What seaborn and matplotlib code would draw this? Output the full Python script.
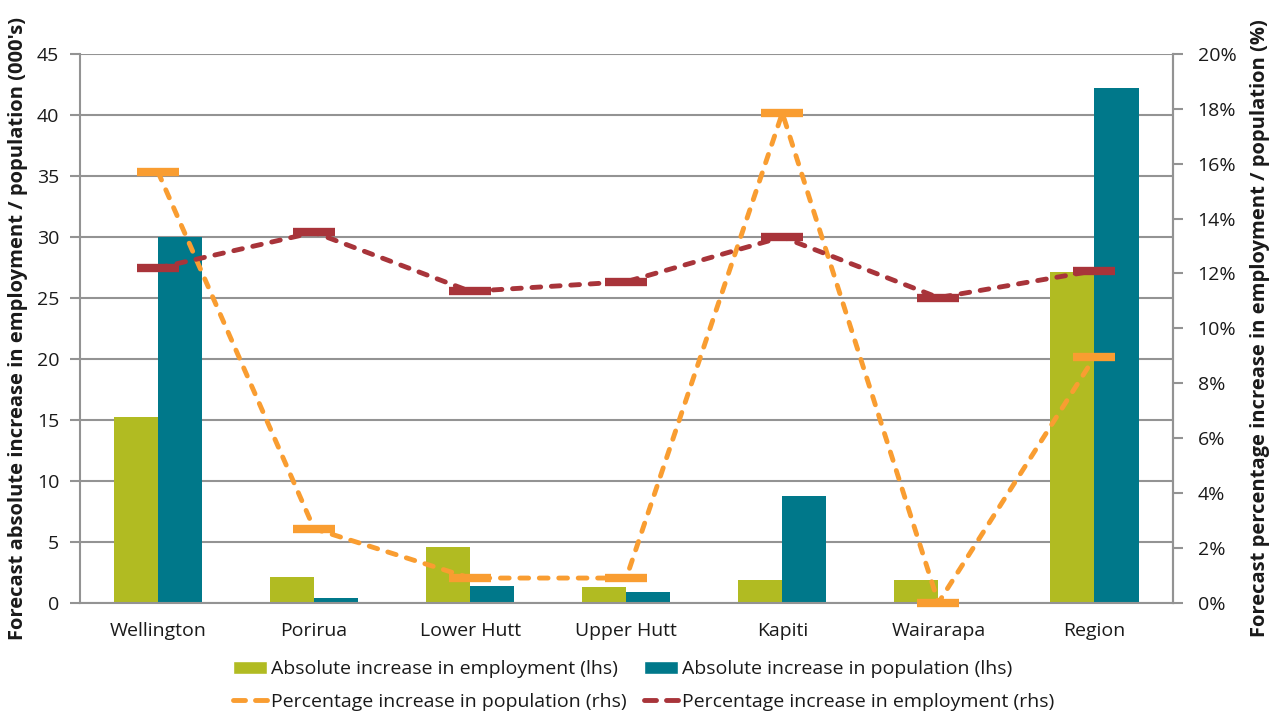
import numpy as np
import pandas as pd
import matplotlib
matplotlib.use("Agg")
import matplotlib.pyplot as plt
from matplotlib.lines import Line2D
from matplotlib.markers import MarkerStyle
from matplotlib.patches import Patch
from matplotlib.ticker import MultipleLocator, FuncFormatter
import seaborn as sns

# Forecast increases by area
categories = ["Wellington", "Porirua", "Lower Hutt", "Upper Hutt", "Kapiti", "Wairarapa", "Region"]
abs_employment = [15.2, 2.1, 4.6, 1.3, 1.85, 1.85, 27.1]       # 000's
abs_population = [30.0, 0.35, 1.4, 0.85, 8.75, 0.0, 42.2]      # 000's
pct_population = [15.7, 2.7, 0.9, 0.9, 17.85, 0.0, 8.95]       # %
pct_employment = [12.2, 13.5, 11.35, 11.7, 13.33, 11.12, 12.1]  # %

series_abs = ["Absolute increase in employment (lhs)", "Absolute increase in population (lhs)"]
label_pct_pop = "Percentage increase in population (rhs)"
label_pct_emp = "Percentage increase in employment (rhs)"

GREEN = "#B1BB22"
TEAL = "#00788A"
ORANGE = "#F99D31"
RED = "#A8343A"
GRID = "#939393"
TEXT = "#1A1A1A"
LW = 3.5

sns.set_theme(style="white")
plt.rcParams["font.family"] = ["Open Sans", "DejaVu Sans"]

bars = pd.DataFrame({
    "area": categories * 2,
    "value": abs_employment + abs_population,
    "series": [series_abs[0]] * len(categories) + [series_abs[1]] * len(categories),
})

fig = plt.figure(figsize=(12.77, 7.15), dpi=100)
ax = fig.add_axes([0.0626, 0.157, 0.8556, 0.7675])

sns.barplot(data=bars, x="area", y="value", hue="series", order=categories,
            hue_order=series_abs, palette=[GREEN, TEAL], width=0.565,
            gap=0, saturation=1, legend=False, ax=ax, zorder=2,
            linewidth=0, edgecolor="none")

ax.set_ylim(0, 45)
ax.yaxis.set_major_locator(MultipleLocator(5))
ax.set_xlim(-0.5, len(categories) - 0.5)
ax.grid(axis="y", color=GRID, linewidth=1.5, zorder=0)
ax.set_axisbelow(True)
ax.set_xlabel("")
ax.set_ylabel("Forecast absolute increase in employment / population (000's)",
              fontsize=14.5, fontweight="bold", color=TEXT, labelpad=6)

for side in ["left", "bottom", "right"]:
    ax.spines[side].set_color(GRID)
    ax.spines[side].set_linewidth(1.5)
ax.spines["top"].set_visible(False)

# category boundaries as tick marks, names at the centres
ax.set_xticks(np.arange(-0.5, len(categories), 1.0), minor=True)
ax.tick_params(axis="x", which="major", length=0, labelsize=14, labelcolor=TEXT, pad=14)
ax.tick_params(axis="x", which="minor", length=6, width=1.5, color=GRID, direction="out")
ax.tick_params(axis="y", which="major", length=7, width=1.5, color=GRID, direction="out",
               labelsize=14, labelcolor=TEXT, left=True, pad=8)

ax2 = ax.twinx()
x_pos = np.arange(len(categories))
for vals, col in [(pct_population, ORANGE), (pct_employment, RED)]:
    sns.lineplot(x=x_pos, y=vals, color=col, linewidth=LW, ax=ax2,
                 marker="_", markersize=30, markeredgewidth=6,
                 markeredgecolor=col, zorder=3, clip_on=False)
for ln in ax2.get_lines():
    ln.set_linestyle((0, (1.8, 2.2)))
    ln.set_dash_capstyle("round")

ax2.set_ylim(0, 20)
ax2.yaxis.set_major_locator(MultipleLocator(2))
ax2.yaxis.set_major_formatter(FuncFormatter(lambda v, _: f"{v:.0f}%"))
ax2.set_xlim(-0.5, len(categories) - 0.5)
for side in ["left", "bottom", "top"]:
    ax2.spines[side].set_visible(False)
ax2.spines["right"].set_color(GRID)
ax2.spines["right"].set_linewidth(1.5)
ax2.tick_params(axis="y", length=7, width=1.5, color=GRID, direction="out",
                labelsize=14, labelcolor=TEXT, right=True, pad=11)
ax2.set_ylabel("Forecast percentage increase in employment / population (%)",
               fontsize=14.5, fontweight="bold", color=TEXT, labelpad=10)

# legend keys for the dashed series: two rounded dashes each
dash_key = MarkerStyle("_", capstyle="round")
handles = [
    Patch(facecolor=GREEN, label=series_abs[0]),
    Line2D([], [], color=ORANGE, linestyle="none", marker=dash_key,
           markersize=8.5, markeredgewidth=LW, label=label_pct_pop),
    Patch(facecolor=TEAL, label=series_abs[1]),
    Line2D([], [], color=RED, linestyle="none", marker=dash_key,
           markersize=8.5, markeredgewidth=LW, label=label_pct_emp),
]
fig.legend(handles=handles, loc="center", bbox_to_anchor=(0.504, 0.041), ncol=2,
           frameon=False, fontsize=14, handlelength=1.75, handleheight=0.7,
           handletextpad=0.2, columnspacing=0.9, labelspacing=0.75,
           numpoints=2, labelcolor=TEXT)

fig.savefig("out.png", dpi=100)
